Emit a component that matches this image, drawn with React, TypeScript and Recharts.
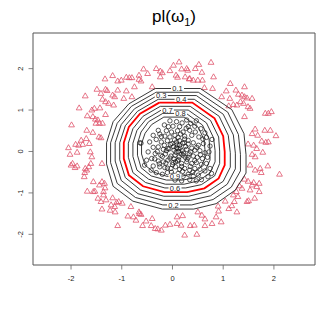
import { ScatterChart, Scatter, XAxis, YAxis, ReferenceArea } from "recharts";

// axis ranges and ticks (R style box, 4% padding)
const xDomain: [number, number] = [-2.75, 2.81];
const yDomain: [number, number] = [-2.74, 2.86];
const xTicks = [-2, -1, 0, 1, 2];
const yTicks = [-2, -1, 0, 1, 2];

// class 2 (triangles)
const triangles = [
  [-0.57, 1.99], [-0.32, 2.0], [-0.24, 1.94], [-0.49, 1.88], [-0.66, 1.84], [-0.24, 1.8], [-1.18, 1.83], [-1.33, 1.75],
  [-1.01, 1.72], [-1.08, 1.7], [-0.91, 1.79], [-0.85, 1.78], [-0.8, 1.78], [-0.66, 1.74], [-0.62, 1.7], [-0.4, 1.56],
  [-0.75, 1.56], [-0.91, 1.46], [-1.08, 1.48], [-1.32, 1.5], [-1.29, 1.47], [-1.49, 1.5], [-1.72, 1.34], [-1.41, 1.4],
  [-1.18, 1.36], [-1.14, 1.32], [-0.96, 1.28], [-0.8, 1.32], [-1.38, 1.26], [-1.32, 1.2], [-1.26, 1.16], [-1.16, 1.12],
  [-1.43, 1.05], [-1.84, 1.05], [-1.54, 1.04], [-1.59, 1.0], [-1.68, 0.86], [-1.57, 0.84], [-1.52, 0.78], [-1.47, 0.76],
  [-1.38, 0.68], [-1.32, 0.89], [-1.51, 0.68], [-1.44, 0.68], [-1.99, 0.64], [-1.69, 0.51], [-1.57, 0.46], [-1.45, 0.35],
  [-1.41, 0.33], [-1.7, 0.31], [-1.8, 0.27], [-1.91, 0.17], [-1.85, 0.15], [-1.77, 0.17], [-2.05, 0.09], [-2.02, -0.07],
  [-1.88, -0.02], [-1.64, 0.19], [-1.62, -0.01], [-1.59, -0.13], [-1.39, -0.29], [-1.61, -0.29], [-1.65, -0.37], [-1.72, -0.41],
  [-1.69, -0.45], [-1.73, -0.51], [-1.74, -0.61], [-1.97, -0.29], [-2.0, -0.33], [-1.92, -0.39], [-1.88, -0.35], [-1.56, -0.73],
  [-1.39, -0.73], [-1.34, -0.77], [-1.44, -0.81], [-1.33, -0.88], [-1.68, -0.96], [-1.56, -0.97], [-1.53, -0.96], [-1.36, -0.97],
  [-1.36, -1.05], [-1.47, -1.13], [-1.41, -1.21], [-1.31, -1.17], [-1.18, -1.12], [-1.06, -1.21], [-0.99, -1.25], [-1.21, -1.29],
  [-1.14, -1.33], [-1.39, -1.39], [-1.23, -1.42], [-1.13, -1.46], [-1.1, -1.23], [-0.82, -1.33], [-0.66, -1.46], [-0.62, -1.52],
  [-0.77, -1.58], [-0.88, -1.56], [-0.72, -1.66], [-0.52, -1.68], [-0.59, -1.79], [-0.4, -1.62], [-0.42, -1.79], [-0.34, -1.86],
  [-0.29, -1.87], [-0.22, -1.9], [-0.14, -1.78], [-0.05, -1.76], [-1.08, -1.79], [-0.65, -1.5],
  [0.13, 2.16], [0.02, 2.08], [0.18, 1.99], [0.28, 2.0], [0.3, 1.96], [0.45, 2.0], [0.07, 1.84], [0.25, 1.8],
  [0.33, 1.75], [0.41, 1.72], [0.5, 1.72], [0.59, 1.72], [0.58, 1.91], [0.76, 2.15], [0.81, 1.8], [0.63, 1.54],
  [0.79, 1.52], [1.14, 1.64], [1.06, 1.46], [1.25, 1.48], [1.42, 1.56], [0.97, 1.32], [1.13, 1.28], [1.3, 1.38],
  [1.37, 1.36], [1.42, 1.32], [1.47, 1.29], [1.57, 1.28], [1.34, 1.2], [1.4, 1.16], [1.27, 1.12], [1.11, 1.1],
  [1.2, 1.13], [1.49, 1.08], [1.53, 1.04], [1.42, 0.84], [1.83, 0.92], [1.89, 0.92], [1.95, 0.96], [1.63, 0.54],
  [1.82, 0.51], [1.93, 0.51], [2.04, 0.38], [1.57, 0.43], [1.68, 0.39], [1.49, 0.18], [1.6, 0.15], [1.76, 0.25],
  [1.84, 0.22], [1.89, 0.23], [1.66, 0.07], [1.78, -0.02], [1.57, -0.07], [1.63, -0.13], [1.53, -0.33], [1.88, -0.35],
  [1.73, -0.41], [1.63, -0.45], [1.75, -0.51], [2.11, -0.55], [1.42, -0.67], [1.49, -0.72], [1.6, -0.75], [1.71, -0.77],
  [1.66, -0.85], [1.57, -0.81], [1.53, -0.93], [1.71, -0.97], [1.32, -0.83], [1.37, -0.89], [1.26, -0.97], [1.2, -1.05],
  [1.29, -1.09], [1.22, -1.21], [1.04, -1.2], [1.17, -1.31], [1.11, -1.38], [1.47, -1.21], [1.5, -1.19], [1.62, -1.13],
  [0.9, -1.32], [0.91, -1.44], [1.27, -1.46], [0.5, -1.46], [0.58, -1.54], [0.64, -1.63], [0.2, -1.55], [0.09, -1.58],
  [0.09, -1.74], [0.17, -1.78], [0.35, -1.79], [0.43, -1.78], [0.64, -1.79], [0.86, -1.58], [0.96, -1.7], [0.78, -1.74],
  [0.24, -2.02], [0.48, -2.0], [-0.2, 1.9], [0.52, 2.1], [0.1, 1.79], [0.34, 1.76], [-0.05, 1.95],
];

// class 1 (circles)
const circles = [
  [-0.05, 0.74], [0.08, 0.72], [0.19, 0.69], [0.28, 0.76], [0.36, 0.68], [0.47, 0.74], [-0.16, 0.64], [0.01, 0.61],
  [0.14, 0.6], [0.31, 0.6], [0.44, 0.61], [0.56, 0.55], [-0.28, 0.51], [-0.12, 0.5], [-0.02, 0.47], [0.1, 0.5],
  [0.21, 0.47], [0.34, 0.51], [0.45, 0.47], [0.64, 0.45], [-0.38, 0.39], [-0.25, 0.42], [-0.15, 0.37], [-0.05, 0.35],
  [0.05, 0.39], [0.11, 0.34], [0.24, 0.37], [0.38, 0.39], [0.52, 0.35], [0.67, 0.34], [0.78, 0.29], [-0.64, 0.21],
  [-0.62, 0.2], [-0.45, 0.23], [-0.32, 0.29], [-0.22, 0.23], [-0.1, 0.26], [-0.01, 0.19], [0.08, 0.23], [0.14, 0.15],
  [0.23, 0.21], [0.31, 0.18], [0.41, 0.21], [0.51, 0.15], [0.61, 0.19], [0.74, 0.13], [-0.38, 0.1], [-0.28, 0.11],
  [-0.18, 0.05], [-0.09, 0.07], [0.03, 0.03], [0.11, 0.07], [0.19, 0.02], [0.28, 0.05], [0.36, -0.01], [0.44, 0.03],
  [0.54, 0.02], [0.64, -0.03], [0.72, -0.01], [-0.48, -0.01], [-0.34, -0.05], [-0.23, -0.09], [-0.14, -0.06], [-0.03, -0.11],
  [0.05, -0.09], [0.13, -0.13], [0.21, -0.09], [0.31, -0.14], [0.41, -0.11], [0.49, -0.14], [0.59, -0.17], [0.69, -0.14],
  [-0.51, -0.21], [-0.41, -0.17], [-0.28, -0.23], [-0.18, -0.25], [-0.09, -0.21], [0.01, -0.27], [0.1, -0.23], [0.18, -0.29],
  [0.28, -0.25], [0.38, -0.29], [0.47, -0.27], [0.57, -0.31], [0.67, -0.29], [-0.55, -0.33], [-0.38, -0.35], [-0.25, -0.37],
  [-0.15, -0.39], [-0.03, -0.41], [0.06, -0.37], [0.14, -0.43], [0.24, -0.41], [0.34, -0.45], [0.44, -0.41], [0.54, -0.43],
  [0.64, -0.47], [0.74, -0.41], [-0.32, -0.51], [-0.2, -0.55], [-0.1, -0.51], [0.01, -0.57], [0.11, -0.53], [0.21, -0.6],
  [0.31, -0.55], [0.41, -0.6], [0.51, -0.57], [0.05, -0.69], [0.18, -0.71], [0.34, -0.68], [0.47, -0.71], [0.57, -0.68],
  [0.7, -0.61], [0.77, -0.53], [0.02, 0.12], [0.07, -0.02], [0.15, 0.08], [-0.05, -0.16], [0.22, -0.04], [0.12, -0.2],
  [-0.12, 0.02], [0.26, 0.12], [0.33, -0.06], [0.04, 0.28], [-0.2, -0.12], [0.18, -0.36], [0.09, 0.16], [-0.07, 0.06],
  [0.29, -0.19], [0.38, 0.08], [-0.16, 0.15], [0.0, -0.32], [0.24, 0.3], [0.44, -0.22], [-0.3, 0.0], [0.16, 0.42],
  [-0.02, -0.5], [0.35, -0.36], [0.48, 0.1], [-0.26, -0.3], [0.12, 0.0], [0.2, 0.2], [0.06, -0.25], [-0.1, -0.4],
  [0.03, -0.18], [0.17, -0.06], [0.08, 0.09], [-0.04, 0.17], [0.25, -0.14], [0.14, 0.26], [-0.13, -0.28], [0.31, 0.27],
  [0.2, -0.48], [-0.22, 0.36], [0.4, -0.5], [0.1, -0.62], [-0.35, -0.18], [0.55, -0.08], [0.6, 0.3], [-0.42, -0.45],
  [0.27, 0.56], [-0.08, 0.6],
];

// contour lines of pl(w1), levels 0.1 .. 0.9
const contourLevels = ["0.1", "0.2", "0.3", "0.4", "0.5", "0.6", "0.7", "0.8", "0.9"];
const contour01 = [[-0.34, 1.52], [0.55, 1.52], [1.17, 1.01], [1.41, 0.43], [1.45, -0.08], [1.45, -0.52], [1.24, -0.93], [0.86, -1.26], [0.42, -1.39], [-0.2, -1.39], [-0.78, -1.2], [-1.17, -0.84], [-1.3, -0.3], [-1.3, 0.21], [-1.17, 0.72], [-0.86, 1.15]];
const contour02 = [[-0.32, 1.43], [0.51, 1.43], [1.09, 0.95], [1.3, 0.41], [1.34, -0.07], [1.34, -0.47], [1.16, -0.86], [0.8, -1.16], [0.38, -1.29], [-0.19, -1.29], [-0.73, -1.11], [-1.09, -0.77], [-1.22, -0.27], [-1.22, 0.21], [-1.09, 0.68], [-0.81, 1.09]];
const contour03 = [[-0.3, 1.35], [0.47, 1.35], [1.0, 0.9], [1.2, 0.4], [1.24, -0.04], [1.24, -0.42], [1.08, -0.79], [0.75, -1.07], [0.35, -1.18], [-0.18, -1.18], [-0.68, -1.02], [-1.01, -0.7], [-1.13, -0.23], [-1.13, 0.21], [-1.01, 0.65], [-0.75, 1.03]];
const contour04 = [[-0.28, 1.26], [0.43, 1.26], [0.92, 0.85], [1.1, 0.39], [1.14, -0.03], [1.14, -0.38], [1.0, -0.72], [0.69, -0.97], [0.32, -1.08], [-0.17, -1.08], [-0.63, -0.93], [-0.93, -0.63], [-1.04, -0.2], [-1.04, 0.21], [-0.93, 0.62], [-0.69, 0.97]];
const contour05 = [[-0.26, 1.18], [0.39, 1.18], [0.83, 0.8], [1.0, 0.37], [1.03, -0.01], [1.03, -0.33], [0.91, -0.65], [0.63, -0.89], [0.29, -0.98], [-0.16, -0.98], [-0.58, -0.84], [-0.86, -0.57], [-0.96, -0.17], [-0.96, 0.21], [-0.86, 0.59], [-0.64, 0.91]];
const contour06 = [[-0.24, 1.09], [0.35, 1.09], [0.75, 0.75], [0.91, 0.35], [0.93, 0.01], [0.93, -0.29], [0.83, -0.59], [0.57, -0.8], [0.26, -0.88], [-0.15, -0.88], [-0.53, -0.75], [-0.78, -0.51], [-0.87, -0.14], [-0.87, 0.2], [-0.78, 0.55], [-0.58, 0.85]];
const contour07 = [[-0.22, 1.0], [0.31, 1.0], [0.67, 0.69], [0.81, 0.33], [0.84, 0.02], [0.84, -0.25], [0.74, -0.52], [0.51, -0.71], [0.23, -0.79], [-0.14, -0.79], [-0.47, -0.67], [-0.7, -0.45], [-0.78, -0.12], [-0.78, 0.2], [-0.7, 0.51], [-0.52, 0.78]];
const contour08 = [[-0.19, 0.92], [0.27, 0.92], [0.59, 0.64], [0.72, 0.31], [0.74, 0.03], [0.74, -0.21], [0.65, -0.45], [0.45, -0.63], [0.2, -0.69], [-0.12, -0.69], [-0.42, -0.59], [-0.62, -0.39], [-0.69, -0.09], [-0.69, 0.19], [-0.62, 0.47], [-0.47, 0.72]];
const contour09 = [[-0.17, 0.83], [0.23, 0.83], [0.51, 0.58], [0.62, 0.29], [0.64, 0.05], [0.64, -0.17], [0.56, -0.38], [0.39, -0.54], [0.17, -0.6], [-0.11, -0.6], [-0.37, -0.5], [-0.54, -0.33], [-0.61, -0.06], [-0.61, 0.19], [-0.54, 0.44], [-0.41, 0.65]];
const contours = [contour01, contour02, contour03, contour04, contour05, contour06, contour07, contour08, contour09];

// where the level labels sit on the lines
const labelText = ["0.1", "0.2", "0.3", "0.4", "0.6", "0.7", "0.8", "0.9"];
const labelX = [0.1, 0.02, -0.22, 0.17, 0.05, -0.1, 0.16, 0.05];
const labelY = [1.52, -1.29, 1.35, 1.26, -0.88, 1.0, 0.92, -0.6];

const FONT = "'Liberation Sans', Arial, Helvetica, sans-serif";
const PINK = "#DF536B";

const toPts = (arr: number[][]) => arr.map(([x, y]) => ({ x, y }));
const closed = (arr: number[][]) => toPts([...arr, arr[0]]);

const Triangle = (props: any) => {
  const { cx, cy } = props;
  if (cx == null || cy == null) return <g />;
  return (
    <polygon
      points={`${cx - 2.9},${cy + 1.9} ${cx + 2.9},${cy + 1.9} ${cx},${cy - 3.1}`}
      fill="none"
      stroke={PINK}
      strokeWidth={0.8}
    />
  );
};

const Circle = (props: any) => {
  const { cx, cy } = props;
  if (cx == null || cy == null) return <g />;
  return <circle cx={cx} cy={cy} r={2.2} fill="none" stroke="#111" strokeWidth={0.7} />;
};

const Nothing = () => <g />;

const ContourLabel = (props: any) => {
  const { cx, cy, payload } = props;
  if (cx == null || cy == null) return <g />;
  return (
    <g>
      <rect x={cx - 6.5} y={cy - 2.5} width={13} height={5} fill="#fff" />
      <text x={cx} y={cy + 2.7} textAnchor="middle" fontSize={7.5} fontFamily={FONT} fill="#222">
        {payload.label}
      </text>
    </g>
  );
};

const XTick = (props: any) => {
  const { x, payload } = props;
  return (
    <text x={x} y={281} textAnchor="middle" fontSize={7.5} fontFamily={FONT} fill="#222">
      {payload.value}
    </text>
  );
};

const YTick = (props: any) => {
  const { y, payload } = props;
  return (
    <text x={22.7} y={y} transform={`rotate(-90 22.7 ${y})`} textAnchor="middle" fontSize={7.5} fontFamily={FONT} fill="#222">
      {payload.value}
    </text>
  );
};

export default function App() {
  const labels = labelText.map((label, i) => ({ x: labelX[i], y: labelY[i], label }));
  return (
    <div style={{ position: "absolute", left: 0, top: 0, width: 332, height: 332, background: "#fff" }}>
      <ScatterChart width={332} height={332} margin={{ top: 33, right: 17, bottom: 0, left: 0 }}>
        <XAxis
          type="number"
          dataKey="x"
          domain={xDomain}
          ticks={xTicks}
          allowDataOverflow
          height={67}
          axisLine={false}
          tickSize={4.5}
          tickLine={{ stroke: "#666", strokeWidth: 0.8 }}
          tick={<XTick />}
        />
        <YAxis
          type="number"
          dataKey="y"
          domain={yDomain}
          ticks={yTicks}
          allowDataOverflow
          width={33}
          axisLine={false}
          tickSize={4.5}
          tickLine={{ stroke: "#666", strokeWidth: 0.8 }}
          tick={<YTick />}
        />
        <Scatter data={toPts(circles)} shape={<Circle />} isAnimationActive={false} />
        <Scatter data={toPts(triangles)} shape={<Triangle />} isAnimationActive={false} />
        {contours.map((c, i) => (
          <Scatter
            key={contourLevels[i]}
            name={contourLevels[i]}
            data={closed(c)}
            line={{
              stroke: contourLevels[i] === "0.5" ? "#ff0000" : "#222",
              strokeWidth: contourLevels[i] === "0.5" ? 1.8 : 0.9,
            }}
            lineType="joint"
            shape={<Nothing />}
            isAnimationActive={false}
          />
        ))}
        <Scatter data={labels} shape={<ContourLabel />} isAnimationActive={false} />
        <ReferenceArea
          x1={xDomain[0]}
          x2={xDomain[1]}
          y1={yDomain[0]}
          y2={yDomain[1]}
          fill="none"
          stroke="#555"
          strokeWidth={1}
          ifOverflow="visible"
        />
      </ScatterChart>
      <svg width={332} height={40} style={{ position: "absolute", left: 0, top: 0 }}>
        <text x={174} y={22.4} textAnchor="middle" fontSize={17} fontFamily={FONT} fill="#000">
          pl(ω
          <tspan fontSize={11} dy={4}>1</tspan>
          <tspan dy={-4}>)</tspan>
        </text>
      </svg>
    </div>
  );
}
